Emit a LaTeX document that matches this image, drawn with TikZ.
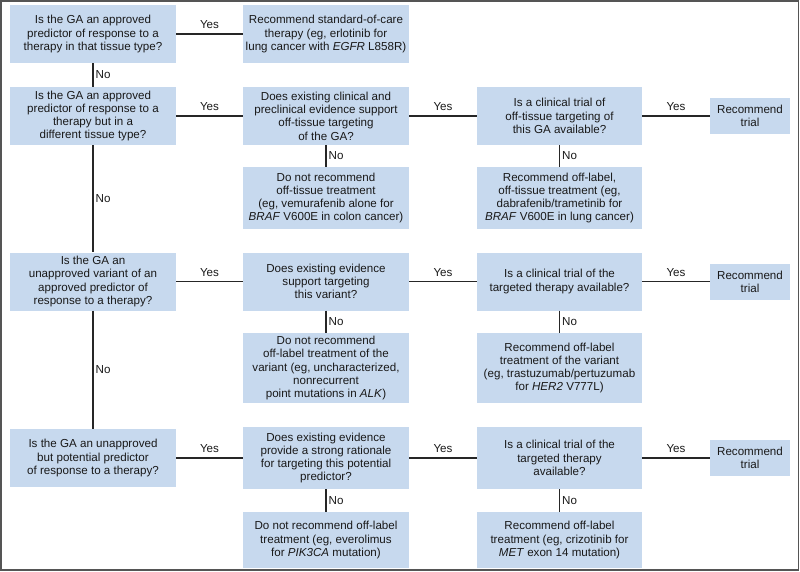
\documentclass[tikz,border=0pt]{standalone}
\usepackage{fontspec}
\setmainfont{Liberation Sans}
\definecolor{boxblue}{RGB}{199,217,238}
\definecolor{framegray}{RGB}{85,85,85}

\begin{document}
\begin{tikzpicture}[x=1pt,y=-1pt,
  box/.style={fill=boxblue,inner sep=0pt,align=center,text=black!90,
    font=\fontsize{11.6}{13.3}\selectfont,minimum width=166pt},
  trialbox/.style={box,minimum width=80pt,minimum height=36pt},
  link/.style={line width=1.4pt,black!85},
  lbl/.style={font=\fontsize{11.6}{13.3}\selectfont,text=black!90,inner sep=2pt}]
\useasboundingbox (0,0) rectangle (800,571);
\draw[framegray,line width=1.5pt] (1,1) rectangle (798.5,570);

\node[box,minimum height=58pt] (q1) at (93,34) {Is the GA an approved\\predictor of response to a\\therapy in that tissue type?};
\node[box,minimum height=58pt] (r1) at (326,34) {Recommend standard-of-care\\therapy (eg, erlotinib for\\lung cancer with \textit{EGFR} L858R)};

\node[box,minimum height=58pt] (q2) at (93,116) {Is the GA an approved\\predictor of response to a\\therapy but in a\\different tissue type?};
\node[box,minimum height=58pt] (q2b) at (326,116) {Does existing clinical and\\preclinical evidence support\\off-tissue targeting\\of the GA?};
\node[box,minimum height=58pt,minimum width=165pt] (q2c) at (559.5,116) {Is a clinical trial of\\off-tissue targeting of\\this GA available?};
\node[trialbox] (t2) at (750,116) {Recommend\\trial};
\node[box,minimum height=62pt] (d2b) at (326,198) {Do not recommend\\off-tissue treatment\\(eg, vemurafenib alone for\\\textit{BRAF} V600E in colon cancer)};
\node[box,minimum height=62pt,minimum width=165pt] (d2c) at (559.5,198) {Recommend off-label,\\off-tissue treatment (eg,\\dabrafenib/trametinib for\\\textit{BRAF} V600E in lung cancer)};

\node[box,minimum height=58pt] (q3) at (93,281.5) {Is the GA an\\unapproved variant of an\\approved predictor of\\response to a therapy?};
\node[box,minimum height=58pt] (q3b) at (326,281.5) {Does existing evidence\\support targeting\\this variant?};
\node[box,minimum height=58pt,minimum width=165pt] (q3c) at (559.5,281.5) {Is a clinical trial of the\\targeted therapy available?};
\node[trialbox] (t3) at (750,281.5) {Recommend\\trial};
\node[box,minimum height=70pt] (d3b) at (326,368) {Do not recommend\\off-label treatment of the\\variant (eg, uncharacterized,\\nonrecurrent\\point mutations in \textit{ALK})};
\node[box,minimum height=70pt,minimum width=165pt] (d3c) at (559.5,368) {Recommend off-label\\treatment of the variant\\(eg, trastuzumab/pertuzumab\\for \textit{HER2} V777L)};

\node[box,minimum height=58pt] (q4) at (93,458) {Is the GA an unapproved\\but potential predictor\\of response to a therapy?};
\node[box,minimum height=62pt] (q4b) at (326,458) {Does existing evidence\\provide a strong rationale\\for targeting this potential\\predictor?};
\node[box,minimum height=62pt,minimum width=165pt] (q4c) at (559.5,458) {Is a clinical trial of the\\targeted therapy\\available?};
\node[trialbox] (t4) at (750,458) {Recommend\\trial};
\node[box,minimum height=56pt] (d4b) at (326,540) {Do not recommend off-label\\treatment (eg, everolimus\\for \textit{PIK3CA} mutation)};
\node[box,minimum height=56pt,minimum width=165pt] (d4c) at (559.5,540) {Recommend off-label\\treatment (eg, crizotinib for\\\textit{MET} exon 14 mutation)};

\draw[link] (q1) -- node[lbl,above=2.5pt] (y1) {Yes} (r1);
\draw[link] (q1) -- node[lbl,right] (n1) {No} (q2);
\draw[link] (q2) -- node[lbl,above=2.5pt] (y2) {Yes} (q2b);
\draw[link] (q2b) -- node[lbl,above=2.5pt] (y2b) {Yes} (q2c);
\draw[link] (q2c) -- node[lbl,above=2.5pt] (y2c) {Yes} (t2);
\draw[link] (q2b) -- node[lbl,right] (n2b) {No} (d2b);
\draw[link] (q2c) -- node[lbl,right] (n2c) {No} (d2c);
\draw[link] (q2) -- node[lbl,right] (n2) {No} (q3);

\draw[link] (q3) -- node[lbl,above=2.5pt] (y3) {Yes} (q3b);
\draw[link] (q3b) -- node[lbl,above=2.5pt] (y3b) {Yes} (q3c);
\draw[link] (q3c) -- node[lbl,above=2.5pt] (y3c) {Yes} (t3);
\draw[link] (q3b) -- node[lbl,right] (n3b) {No} (d3b);
\draw[link] (q3c) -- node[lbl,right] (n3c) {No} (d3c);
\draw[link] (q3) -- node[lbl,right] (n3) {No} (q4);

\draw[link] (q4) -- node[lbl,above=2.5pt] (y4) {Yes} (q4b);
\draw[link] (q4b) -- node[lbl,above=2.5pt] (y4b) {Yes} (q4c);
\draw[link] (q4c) -- node[lbl,above=2.5pt] (y4c) {Yes} (t4);
\draw[link] (q4b) -- node[lbl,right] (n4b) {No} (d4b);
\draw[link] (q4c) -- node[lbl,right] (n4c) {No} (d4c);
\end{tikzpicture}
\end{document}
